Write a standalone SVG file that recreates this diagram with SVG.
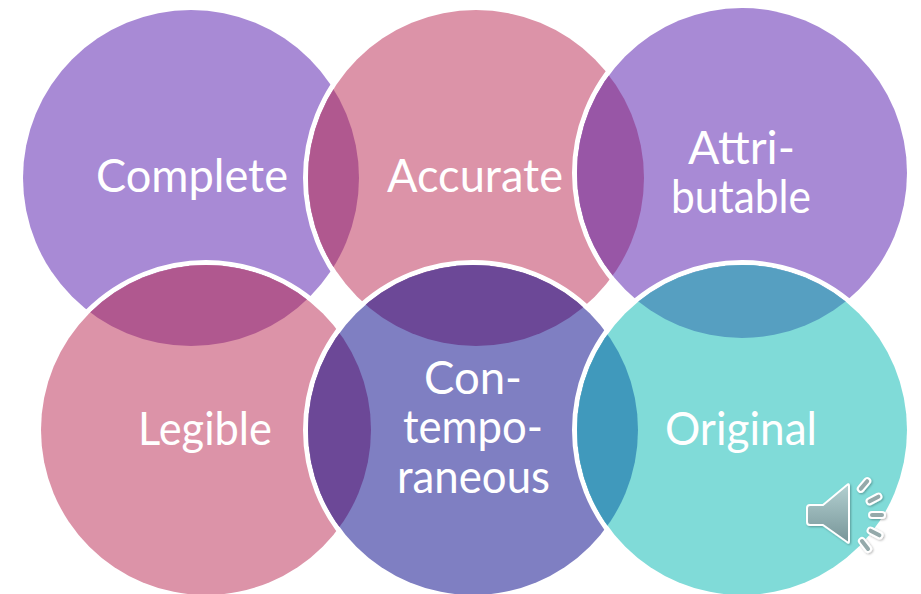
<svg xmlns="http://www.w3.org/2000/svg" width="921" height="594" viewBox="0 0 921 594">
<style>
.t{font-family:"Lato","Open Sans","Liberation Sans",sans-serif;font-size:46px;fill:#fff}
.tick{fill:#94a9aa;stroke:#fff;stroke-width:2}
.halo{fill:none;stroke:#fff;stroke-width:5}
</style>
<defs>
<clipPath id="c1"><circle cx="191" cy="178" r="168"/></clipPath>
<clipPath id="c2"><circle cx="476" cy="178" r="168"/></clipPath>
<clipPath id="c3"><circle cx="742" cy="173" r="165"/></clipPath>
<clipPath id="c4"><circle cx="206" cy="430" r="165"/></clipPath>
<clipPath id="c5"><circle cx="473" cy="430" r="165"/></clipPath>
<linearGradient id="spk" x1="0" y1="0" x2="0" y2="1"><stop offset="0" stop-color="#b3d0d1"/><stop offset="1" stop-color="#779598"/></linearGradient>
<filter id="sh" x="-20%" y="-20%" width="140%" height="140%"><feDropShadow dx="1" dy="1" stdDeviation="1" flood-color="#000" flood-opacity=".3"/></filter>
</defs>
<rect width="921" height="594" fill="#fff"/>
<g id="node-complete"><circle cx="191" cy="178" r="168" fill="#a88ad5"/></g>
<g id="node-accurate"><circle class="halo" cx="476" cy="178" r="170.5"/><circle cx="476" cy="178" r="168" fill="#dc93a8"/></g>
<g id="node-attributable"><circle class="halo" cx="742" cy="173" r="167.5"/><circle cx="742" cy="173" r="165" fill="#a88ad5"/></g>
<g id="node-legible"><circle class="halo" cx="206" cy="430" r="167.5"/><circle cx="206" cy="430" r="165" fill="#dc93a8"/></g>
<g id="node-contemporaneous"><circle class="halo" cx="473" cy="430" r="167.5"/><circle cx="473" cy="430" r="165" fill="#7f7fc2"/></g>
<g id="node-original"><circle class="halo" cx="742" cy="430" r="167.5"/><circle cx="742" cy="430" r="165" fill="#80dbd8"/></g>
<g id="overlaps">
<circle cx="476" cy="178" r="168" fill="#b0588f" clip-path="url(#c1)"/>
<circle cx="742" cy="173" r="165" fill="#9856a6" clip-path="url(#c2)"/>
<circle cx="206" cy="430" r="165" fill="#b0588f" clip-path="url(#c1)"/>
<circle cx="473" cy="430" r="165" fill="#6c4897" clip-path="url(#c2)"/>
<circle cx="742" cy="430" r="165" fill="#569fc1" clip-path="url(#c3)"/>
<circle cx="473" cy="430" r="165" fill="#6c4897" clip-path="url(#c4)"/>
<circle cx="742" cy="430" r="165" fill="#4099bc" clip-path="url(#c5)"/>
</g>
<g id="labels">
<text class="t" x="96" y="192" textLength="192" lengthAdjust="spacingAndGlyphs">Complete</text>
<text class="t" x="387" y="192" textLength="176" lengthAdjust="spacingAndGlyphs">Accurate</text>
<text class="t" x="688" y="164" textLength="107" lengthAdjust="spacingAndGlyphs">Attri-</text>
<text class="t" x="671" y="213" textLength="140" lengthAdjust="spacingAndGlyphs">butable</text>
<text class="t" x="138" y="445" textLength="134" lengthAdjust="spacingAndGlyphs">Legible</text>
<text class="t" x="424" y="394" textLength="98" lengthAdjust="spacingAndGlyphs">Con-</text>
<text class="t" x="403" y="443" textLength="140" lengthAdjust="spacingAndGlyphs">tempo-</text>
<text class="t" x="397" y="493" textLength="153" lengthAdjust="spacingAndGlyphs">raneous</text>
<text class="t" x="665" y="445" textLength="152" lengthAdjust="spacingAndGlyphs">Original</text>
</g>
<g id="speaker" filter="url(#sh)">
<path d="M810 505H823L847 485Q849 483 849 486V541Q849 544 847 542L823 525H810Q807 525 807 522V508Q807 505 810 505Z" fill="url(#spk)" stroke="#fff" stroke-width="2" stroke-linejoin="round"/>
<rect class="tick" x="856" y="482" width="16" height="6" rx="3" transform="rotate(-50 864 485)"/>
<rect class="tick" x="866" y="496" width="16" height="6" rx="3" transform="rotate(-28 874 499)"/>
<rect class="tick" x="869" y="512" width="16" height="6" rx="3"/>
<rect class="tick" x="867" y="530" width="16" height="6" rx="3" transform="rotate(28 875 533)"/>
<rect class="tick" x="857" y="542" width="16" height="6" rx="3" transform="rotate(52 865 545)"/>
</g>
</svg>
